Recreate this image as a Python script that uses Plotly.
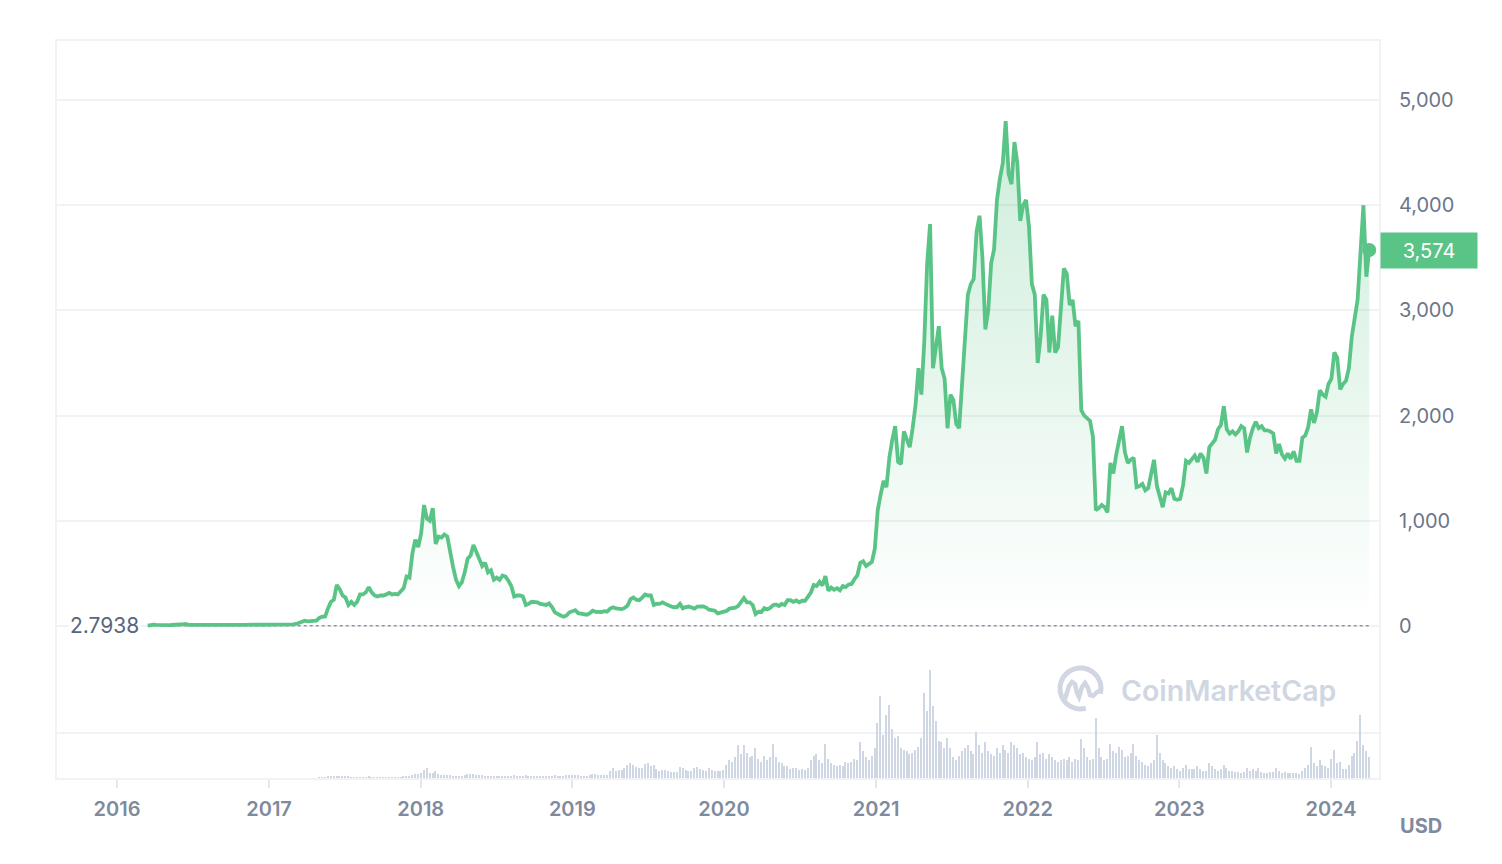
import math
import pandas as pd
import plotly.graph_objects as go

# ---------------- data (weekly samples, USD) ----------------
price_2016 = [2.7938, 10.5, 11.5,
              10.5, 8.0, 8.0, 7.5,
              9.0, 9.5, 13.5, 12.5, 14.0,
              14.5, 18.5, 11.5, 12.5,
              10.5, 10.5, 12.5, 12.5,
              8.5, 12.0, 11.0, 11.0, 12.0,
              11.5, 12.0, 13.0, 13.0,
              13.0, 12.0, 12.0, 11.5,
              10.8, 10.8, 10.0, 9.6, 8.5,
              8.4, 8.2, 7.6, 7.8]
price_2017 = [10.5, 10.0, 10.7, 10.5, 10.7,
              11.4, 13.0, 12.5, 16.0,
              19.0, 28.5, 42.0, 50.0,
              44.0, 43.0, 48.0, 50.0,
              77.0, 88.0, 90.0, 170.0, 230.0,
              250.0, 390.0, 350.0, 290.0,
              270.0, 200.0, 230.0, 200.0,
              230.0, 300.0, 300.0, 320.0, 370.0,
              320.0, 290.0, 280.0, 290.0,
              290.0, 300.0, 315.0, 300.0, 305.0,
              300.0, 330.0, 360.0, 470.0,
              460.0, 690.0, 820.0, 750.0]
price_2018 = [880, 1150, 1020, 1000, 1120,
              780, 850, 840, 870,
              850, 690, 560, 440,
              380, 415, 510, 640,
              670, 770, 710, 650, 570,
              600, 510, 530, 440,
              460, 440, 480, 470, 430,
              380, 280, 290, 290,
              280, 200, 210, 230,
              225, 225, 210, 205, 200,
              215, 180, 130, 110,
              100, 88, 100, 130]
price_2019 = [140, 150, 122, 118, 105,
              107, 122, 145, 135,
              130, 133, 140, 137,
              165, 178, 167, 165, 160,
              172, 195, 255, 270,
              250, 245, 270, 300,
              290, 290, 200, 212, 210,
              225, 210, 195, 185,
              178, 180, 210, 168,
              180, 185, 175, 165, 185,
              185, 187, 175, 155,
              150, 145, 120, 128, 130]
price_2020 = [143, 165, 168, 175,
              190, 225, 265, 225,
              225, 200, 113, 135, 133,
              170, 158, 172, 197,
              205, 190, 210, 200,
              245, 245, 230, 243, 225,
              240, 240, 275, 318,
              390, 380, 420, 385,
              475, 335, 365, 345, 360,
              340, 380, 370, 395,
              400, 445, 480, 600,
              615, 570, 590, 610, 735]
price_2021 = [1100, 1250, 1380, 1320,
              1600, 1770, 1900, 1560,
              1540, 1850, 1780, 1700, 1880,
              2100, 2450, 2200, 2700,
              3450, 3820, 2450, 2650,
              2850, 2450, 2350, 1880, 2200,
              2150, 1920, 1880, 2300,
              2650, 3150, 3250, 3300, 3750,
              3900, 3500, 2820, 3000,
              3450, 3580, 4050, 4250,
              4400, 4800, 4300, 4200, 4600,
              4400, 3850, 4000, 4050]
price_2022 = [3800, 3250, 3150, 2500,
              2750, 3150, 3100, 2600,
              2950, 2600, 2650, 3000, 3400,
              3350, 3050, 3100, 2850,
              2900, 2050, 2000, 1980, 1950,
              1800, 1100, 1120, 1150,
              1130, 1080, 1550, 1450,
              1630, 1780, 1900, 1650, 1550,
              1580, 1600, 1320, 1330,
              1350, 1290, 1310, 1460,
              1580, 1330, 1240, 1130, 1270,
              1260, 1310, 1210, 1200]
price_2023 = [1210, 1340, 1570, 1550, 1590,
              1620, 1560, 1640, 1600,
              1450, 1700, 1740, 1770,
              1870, 1910, 2090, 1870,
              1830, 1850, 1820, 1850, 1900,
              1880, 1650, 1790, 1880,
              1940, 1880, 1900, 1860,
              1860, 1850, 1830, 1640, 1730,
              1630, 1590, 1640, 1590,
              1660, 1570, 1570, 1790, 1810,
              1890, 2060, 1930, 2030,
              2240, 2200, 2180, 2300]
price_2024 = [2350, 2600, 2550, 2250, 2300, 2330, 2450,
              2750, 2950, 3100, 3550, 4000, 3320, 3574]

# volume in billions USD
volume_2016 = [0.0, 0.0, 0.0,
               0.0, 0.0, 0.0, 0.0,
               0.0, 0.0, 0.0, 0.0, 0.0,
               0.0, 0.0, 0.0, 0.0,
               0.0, 0.0, 0.0, 0.0,
               0.0, 0.0, 0.0, 0.0, 0.0,
               0.0, 0.0, 0.0, 0.0,
               0.0, 0.0, 0.0, 0.0,
               0.0, 0.0, 0.0, 0.0, 0.0,
               0.0, 0.0, 0.0, 0.0]
volume_2017 = [0.0, 0.0, 0.0, 0.0, 0.0,
               0.0, 0.0, 0.0, 0.0,
               0.0, 0.0, 0.0, 0.0,
               0.0, 0.0, 0.0, 0.0,
               0.30, 0.40, 0.50, 0.70, 0.90,
               0.90, 1.10, 1.00, 0.80,
               0.70, 0.80, 0.60, 0.50,
               0.50, 0.40, 0.50, 0.60, 0.70,
               0.60, 0.50, 0.40, 0.40,
               0.30, 0.35, 0.30, 0.40, 0.35,
               0.40, 0.60, 0.70, 1.10,
               1.50, 2.20, 3.00, 2.80]
volume_2018 = [3.5, 5.5, 7.0, 3.5, 3.2,
               4.5, 2.5, 2.2, 2.0,
               1.8, 1.9, 1.6, 1.5,
               1.4, 1.6, 2.2, 2.5,
               2.4, 2.6, 2.0, 1.8, 1.7,
               1.6, 1.6, 1.4, 1.3,
               1.5, 1.3, 1.4, 1.6, 1.4,
               1.5, 1.8, 1.6, 1.4,
               1.5, 1.7, 1.4, 1.2,
               1.1, 1.0, 0.9, 0.9, 0.9,
               1.0, 1.4, 1.8, 1.6,
               1.5, 1.3, 1.8, 2.2]
volume_2019 = [2.0, 2.2, 1.8, 1.5, 1.4,
               1.6, 1.8, 2.6, 2.4,
               2.2, 2.0, 2.1, 2.0,
               5.0, 6.5, 5.0, 5.5, 5.2,
               7.0, 9.0, 10.0, 9.0,
               7.5, 6.5, 6.8, 9.5,
               10.0, 8.0, 8.5, 6.0, 5.0,
               5.5, 5.2, 4.5, 4.0,
               4.2, 4.0, 7.5, 6.5,
               5.5, 5.0, 4.8, 6.5, 7.5,
               6.0, 5.5, 5.0, 6.5,
               5.5, 4.5, 5.0, 4.8, 5.5]
volume_2020 = [9, 12, 11, 14,
               22, 16, 22, 17,
               14, 15, 20, 13, 11,
               15, 12, 14, 23,
               14, 11, 10, 8,
               8, 6, 7, 6.5, 5.5,
               6, 5.5, 7, 12,
               15, 16, 12, 10,
               23, 13, 10, 9, 8,
               9, 8, 10.5, 10,
               11, 13, 12, 24,
               18, 14, 12, 15, 20]
volume_2021 = [37, 55, 29, 42,
               49, 33, 27, 28,
               20, 19, 18, 16, 17,
               19, 21, 27, 57,
               45, 72, 48, 38,
               25, 24, 20, 27, 20,
               14, 12, 15, 18,
               20, 22, 18, 16, 31,
               22, 17, 24, 18,
               16, 15, 20, 17,
               22, 19, 17, 24, 22,
               20, 16, 17, 14]
volume_2022 = [13, 12, 14, 24,
               16, 17, 13, 16,
               14, 12, 11, 12, 13,
               12, 14, 11, 13,
               12, 26, 20, 14, 12,
               13, 40, 20, 14,
               12, 13, 23, 18,
               17, 21, 19, 14, 15,
               17, 23, 15, 12,
               11, 9, 8, 10,
               12, 29, 17, 12, 10,
               8, 7, 8, 6]
volume_2023 = [5, 7, 9, 6, 6,
               6, 8, 6, 5,
               5, 10, 8, 6,
               5, 6, 9, 7,
               5, 5, 4, 4, 3.5,
               4, 7, 5, 6,
               5, 7, 4, 3.5,
               3.5, 4, 4, 7, 5,
               3.5, 4, 3.5, 3.5,
               3.5, 3.5, 3, 5, 7,
               9, 21, 10, 8,
               12, 9, 8, 7]
volume_2024 = [13, 19, 10, 11, 6, 6, 9, 15, 17, 25, 42, 22, 18, 14]

year_labels = ["2016", "2017", "2018", "2019", "2020", "2021", "2022", "2023", "2024"]
price_ticks = [0, 1000, 2000, 3000, 4000, 5000]
volume_grid = [30]
start_date = "2016-03-15"
currency = "USD"

price = (price_2016 + price_2017 + price_2018 + price_2019 + price_2020
         + price_2021 + price_2022 + price_2023 + price_2024)
volume = (volume_2016 + volume_2017 + volume_2018 + volume_2019 + volume_2020
          + volume_2021 + volume_2022 + volume_2023 + volume_2024)
dates = pd.date_range(start_date, periods=len(price), freq="7D")
vol_dates = pd.date_range(start_date, periods=len(volume), freq="7D")

# ---------------- styling ----------------
W, H = 1502, 864
ML, MR, MT, MB = 57, 123, 41, 86
PW, PH = W - ML - MR, H - MT - MB
GREEN = "rgb(90,196,135)"
GRID = "#f0f2f5"
WM = "#d0d6e2"


def px(x):
    return (x - ML) / PW


def py(y):
    return (H - MB - y) / PH


fig = go.Figure()

fig.add_trace(go.Bar(
    x=vol_dates, y=volume, yaxis="y2",
    marker=dict(color="#cfd6e4", line=dict(width=0)),
    width=3.6 * 86400000, hoverinfo="skip",
))

fig.add_trace(go.Scatter(
    x=[dates[0], dates[-1]], y=[price[0], price[0]], mode="lines",
    line=dict(color="#8f96a3", width=1.5, dash="dot"), hoverinfo="skip",
))

fig.add_trace(go.Scatter(
    x=dates, y=price, mode="lines",
    line=dict(color=GREEN, width=3.8),
    fill="tozeroy",
    fillgradient=dict(type="vertical",
                      colorscale=[[0, "rgba(90,196,135,0.0)"],
                                  [1, "rgba(90,196,135,0.30)"]]),
    hoverinfo="skip",
))

fig.add_trace(go.Scatter(
    x=[dates[-1]], y=[price[-1]], mode="markers",
    marker=dict(size=14, color=GREEN), hoverinfo="skip",
))

# watermark logo
cx, cy, r = 1080.5, 688.5, 20.5
arc = []
for i in range(0, 37):
    a = math.radians(-15 + i * (300 / 36))
    arc.append((cx + r * math.cos(a), cy - r * math.sin(a)))
arc_path = "M " + " L ".join(f"{px(x):.5f},{py(y):.5f}" for x, y in arc)
m_pts = [(1065, 699), (1069, 686), (1072, 682), (1075, 684), (1077, 693), (1079, 697),
         (1082, 687), (1085, 683), (1088, 688), (1090, 695), (1093, 696), (1097, 692), (1101, 690)]
m_path = "M " + " L ".join(f"{px(x):.5f},{py(y):.5f}" for x, y in m_pts)

shapes = [
    dict(type="path", xref="paper", yref="paper", path=arc_path,
         line=dict(color=WM, width=5)),
    dict(type="path", xref="paper", yref="paper", path=m_path,
         line=dict(color=WM, width=4.5)),
]

annotations = [
    dict(text=f"{price[0]}", x=px(141), xref="paper", xanchor="right",
         y=price[0], yref="y", yanchor="middle", showarrow=False,
         font=dict(family="Inter", size=21, color="#58667e"), bgcolor="white"),
    dict(text=f"{price[-1]:,}", x=px(1380), xref="paper", xanchor="left",
         y=price[-1], yref="y", yanchor="middle", showarrow=False,
         font=dict(family="Inter", size=20, color="white"),
         bgcolor=GREEN, width=96, height=35, borderpad=0),
    dict(text=currency, x=px(1421), xref="paper", xanchor="center",
         y=py(826), yref="paper", yanchor="middle", showarrow=False,
         font=dict(family="Inter", size=20, color="#808a9d", weight=700)),
    dict(text="CoinMarketCap", x=px(1119), xref="paper", xanchor="left",
         y=py(690), yref="paper", yanchor="middle", showarrow=False,
         font=dict(family="Inter", size=28.5, color=WM, weight=600)),
]

fig.update_layout(
    width=W, height=H,
    margin=dict(l=ML, r=MR, t=MT, b=MB, pad=0),
    paper_bgcolor="white", plot_bgcolor="white",
    showlegend=False, hovermode=False, bargap=0,
    shapes=shapes, annotations=annotations,
    xaxis=dict(
        type="date", range=["2015-08-09 14:00", "2024-04-25 12:00"],
        tickvals=[f"{y}-01-01" for y in year_labels], ticktext=year_labels,
        tickfont=dict(family="Inter", size=20, color="#808a9d", weight=600),
        ticks="outside", ticklen=8, tickwidth=1.5, tickcolor="#e3e7ed",
        ticklabelstandoff=4,
        showgrid=False, zeroline=False,
        showline=True, linecolor=GRID, linewidth=2, mirror=True,
    ),
    yaxis=dict(
        side="right", range=[-1445, 5561],
        tickvals=price_ticks, ticktext=[f"{v:,}" for v in price_ticks],
        tickfont=dict(family="Inter", size=20, color="#6b768a"),
        ticks="", ticklabelstandoff=14,
        showgrid=True, gridcolor=GRID, gridwidth=2, zeroline=False,
        showline=True, linecolor=GRID, linewidth=2, mirror=True,
    ),
    yaxis2=dict(
        overlaying="y", side="right", range=[0, PH / 1.5],
        tickvals=volume_grid, showticklabels=False, ticks="",
        showgrid=True, gridcolor=GRID, gridwidth=2, zeroline=False, showline=False,
    ),
)

fig.write_html("out.html")
